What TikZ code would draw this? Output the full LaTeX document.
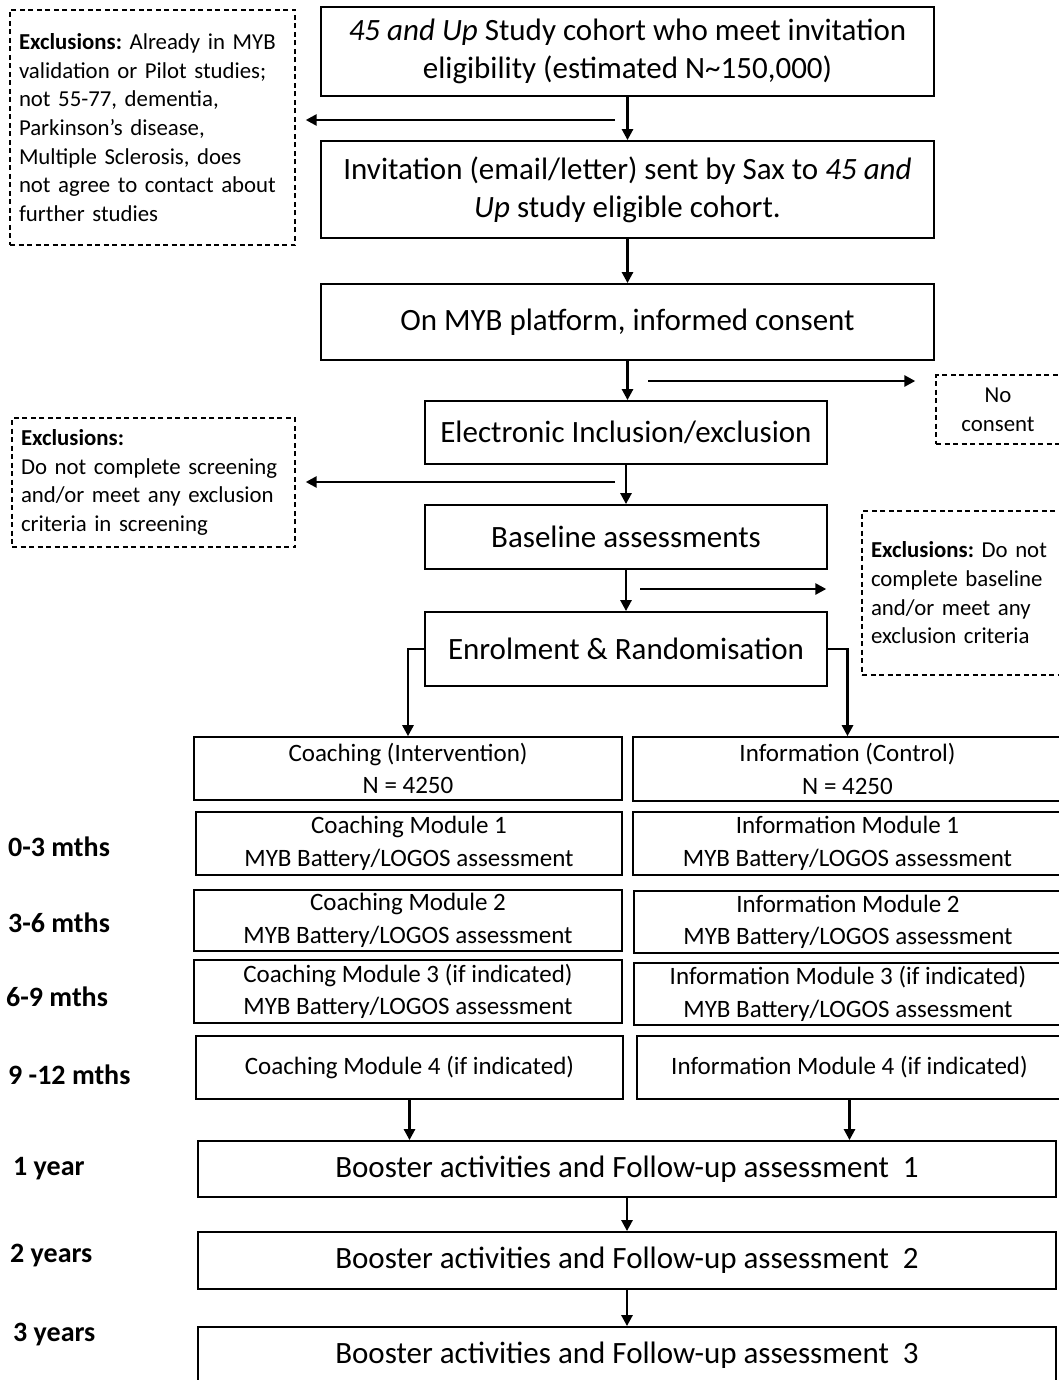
\documentclass[tikz,border=0pt]{standalone}
\usepackage{fontspec}
\setmainfont{Carlito}
\usetikzlibrary{arrows.meta}
\frenchspacing
\begin{document}
\begin{tikzpicture}[x=1pt,y=-1pt,
 box/.style={draw, line width=1.8pt, inner sep=0pt, align=center, font=\fontsize{31}{38}\selectfont},
 mbox/.style={draw, line width=1.6pt, inner sep=0pt, align=center, font=\fontsize{25}{32.5}\selectfont},
 bbox/.style={draw, line width=1.8pt, inner sep=0pt, align=center, font=\fontsize{31}{36}\selectfont},
 dbox/.style={draw, dash pattern=on 5pt off 3.5pt, line width=1.4pt, align=left, font=\frenchspacing\fontsize{22.8}{28.7}\selectfont, inner xsep=9pt, inner ysep=0pt},
 tlabel/.style={anchor=base west, inner sep=0pt, font=\bfseries\fontsize{28}{30}\selectfont},
 arr/.style={line width=2.6pt, -{Triangle[length=11pt,width=11pt]}}]
\useasboundingbox[fill=white] (0,0) rectangle (1058,1380);

% main column
\node[box, minimum width=613, minimum height=89] (n1) at (627.5,51.5) {\textit{45 and Up} Study cohort who meet invitation\\ eligibility (estimated N\textasciitilde150,000)};
\node[box, minimum width=613, minimum height=97] (n2) at (627.5,189.5) {Invitation (email/letter) sent by Sax to \textit{45 and}\\ \textit{Up} study eligible cohort.};
\node[box, minimum width=613, minimum height=76] (n3) at (627.5,322) {On MYB platform, informed consent};
\node[box, minimum width=402, minimum height=63] (n4) at (626,432.5) {Electronic Inclusion/exclusion};
\node[box, minimum width=402, minimum height=64] (n5) at (626,537) {Baseline assessments};
\node[box, minimum width=402, minimum height=74] (n6) at (626,649) {Enrolment \& Randomisation};

% exclusion boxes
\node[dbox, text width=267, minimum height=235] (e1) at (152.5,127.5) {\textbf{Exclusions:} Already in MYB\\ validation or Pilot studies;\\ not 55-77, dementia,\\ Parkinson’s disease,\\ Multiple Sclerosis, does\\ not agree to contact about\\ further studies};
\node[dbox, text width=265, minimum height=129] (e2) at (153.5,482.5) {\textbf{Exclusions:}\\ Do not complete screening\\ and/or meet any exclusion\\ criteria in screening};
\node[dbox, align=center, text width=106, minimum height=69] (nc) at (998,409.5) {No\\ consent};
\node[dbox, text width=192, minimum height=164] (e3) at (967,593) {\textbf{Exclusions:} Do not\\ complete baseline\\ and/or meet any\\ exclusion criteria};

% arms
\node[mbox, minimum width=428, minimum height=63] (c0) at (408,768.5) {Coaching (Intervention)\\ N = 4250};
\node[mbox, minimum width=429, minimum height=64] (i0) at (847.5,769) {Information (Control)\\ N = 4250};
\node[mbox, minimum width=426, minimum height=63] (c1) at (409,843.5) {Coaching Module 1\\ MYB Battery/LOGOS assessment};
\node[mbox, minimum width=429, minimum height=63] (i1) at (847.5,843.5) {Information Module 1\\ MYB Battery/LOGOS assessment};
\node[mbox, minimum width=428, minimum height=61] (c2) at (408,920.5) {Coaching Module 2\\ MYB Battery/LOGOS assessment};
\node[mbox, minimum width=428, minimum height=62] (i2) at (848,922) {Information Module 2\\ MYB Battery/LOGOS assessment};
\node[mbox, minimum width=428, minimum height=63] (c3) at (408,991.5) {Coaching Module 3 (if indicated)\\ MYB Battery/LOGOS assessment};
\node[mbox, minimum width=428, minimum height=62] (i3) at (848,994) {Information Module 3 (if indicated)\\ MYB Battery/LOGOS assessment};
\node[mbox, minimum width=427, minimum height=63] (c4) at (409.5,1067.5) {Coaching Module 4 (if indicated)};
\node[mbox, minimum width=425, minimum height=63] (i4) at (849.5,1067.5) {Information Module 4 (if indicated)};

% booster
\node[bbox, minimum width=858, minimum height=56] (b1) at (627,1169) {Booster activities and Follow-up assessment\ \ 1};
\node[bbox, minimum width=858, minimum height=57] (b2) at (627,1260.5) {Booster activities and Follow-up assessment\ \ 2};
\node[bbox, minimum width=858, minimum height=56] (b3) at (627,1355) {Booster activities and Follow-up assessment\ \ 3};

% time labels
\node[tlabel] (t1) at (8,856) {0-3 mths};
\node[tlabel] (t2) at (8,932) {3-6 mths};
\node[tlabel] (t3) at (6,1006) {6-9 mths};
\node[tlabel] (t4) at (8,1084) {9 -12 mths};
\node[tlabel] (t5) at (13,1175) {1 year};
\node[tlabel] (t6) at (10,1262) {2 years};
\node[tlabel] (t7) at (13,1341) {3 years};

% connectors
\draw[arr] (n1.south) -- (n2.north);
\draw[arr] (n2.south) -- (n3.north);
\draw[arr] (n3.south) -- (n3.south |- n4.north);
\draw[arr] (n4.south) -- (n5.north);
\draw[arr] (n5.south) -- (n6.north);
\coordinate (s1) at (615,120);
\draw[arr, shorten >=10pt] (s1) -- (s1 -| e1.east);
\coordinate (s2) at (648,381);
\draw[arr, shorten >=20pt] (s2) -- (s2 -| nc.west);
\coordinate (s3) at (615,482);
\draw[arr, shorten >=10pt] (s3) -- (s3 -| e2.east);
\coordinate (s4) at (640,589);
\draw[arr, shorten >=35pt] (s4) -- (s4 -| e3.west);
\draw[arr] (n6.west) -| (c0.north);
\draw[arr] (n6.east) -| (i0.north);
\draw[arr] (c4.south) -- (c4.south |- b1.north);
\draw[arr] (i4.south) -- (i4.south |- b1.north);
\draw[arr] (b1.south) -- (b2.north);
\draw[arr] (b2.south) -- (b3.north);
\end{tikzpicture}
\end{document}
